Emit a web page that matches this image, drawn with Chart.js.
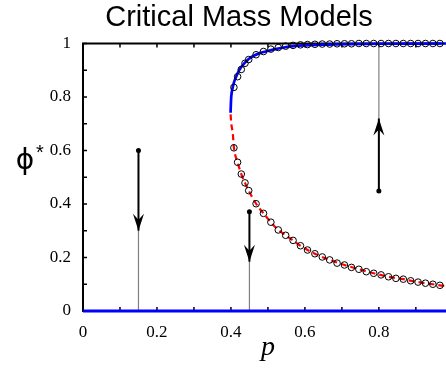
<!DOCTYPE html>
<html lang="en">
  <head>
    <meta charset="UTF-8" />
    <title>Critical Mass Models</title>
    <style>
      body { margin: 0; background: #fff; }
      #wrap { width: 446px; height: 368px; }
    </style>
  </head>
  <body>
    <div id="wrap"><canvas id="myChart"></canvas></div>
  </body>
  <script src="https://cdn.jsdelivr.net/npm/chart.js"></script>
  <script>
    // simulation points (circles)
    var circleP = [0.408, 0.418, 0.428, 0.438, 0.448, 0.468, 0.488, 0.508, 0.528, 0.548, 0.568, 0.588, 0.607, 0.627, 0.647, 0.667, 0.687, 0.707, 0.726, 0.746, 0.766, 0.786, 0.806, 0.826, 0.846, 0.866, 0.886, 0.906, 0.926, 0.946, 0.965];
    var circleHigh = [0.836, 0.876, 0.903, 0.926, 0.94, 0.958, 0.97, 0.979, 0.985, 0.99, 0.993, 0.995, 0.996, 0.997, 0.998, 0.998, 0.999, 0.999, 0.999, 1, 1, 1, 1, 1, 1, 1, 1, 1, 1, 1, 1];
    var circleLow = [0.61, 0.556, 0.512, 0.479, 0.45, 0.401, 0.365, 0.332, 0.303, 0.283, 0.264, 0.244, 0.228, 0.214, 0.202, 0.191, 0.179, 0.172, 0.163, 0.156, 0.147, 0.141, 0.135, 0.128, 0.122, 0.119, 0.113, 0.108, 0.104, 0.1, 0.096];

    // stable upper branch (blue)
    var upperP = [0.399, 0.4, 0.401, 0.405, 0.408, 0.413, 0.419, 0.426, 0.436, 0.448, 0.463, 0.48, 0.499, 0.52, 0.543, 0.57, 0.596, 0.65, 0.72, 0.8, 1.0];
    var upperPhi = [0.741, 0.78, 0.804, 0.837, 0.854, 0.872, 0.891, 0.908, 0.926, 0.942, 0.955, 0.965, 0.972, 0.979, 0.985, 0.99, 0.993, 0.996, 0.998, 0.999, 1.0];

    // unstable branch (red dashed)
    var lowerP = [0.399, 0.401, 0.405, 0.408, 0.418, 0.428, 0.438, 0.448, 0.468, 0.488, 0.508, 0.528, 0.548, 0.568, 0.588, 0.627, 0.667, 0.707, 0.746, 0.786, 0.826, 0.866, 0.906, 0.946, 0.965, 1.0];
    var lowerPhi = [0.735, 0.7, 0.664, 0.612, 0.556, 0.512, 0.479, 0.45, 0.401, 0.365, 0.332, 0.303, 0.283, 0.264, 0.244, 0.214, 0.191, 0.172, 0.156, 0.141, 0.128, 0.119, 0.108, 0.1, 0.096, 0.09];

    // stable lower branch phi = 0
    var zeroP = [0, 1];
    var zeroPhi = [0, 0];

    // flow arrows
    var arrowP = [0.15, 0.45, 0.8];
    var arrowFrom = [0.6, 0.371, 0.449];
    var arrowTo = [0.3, 0.184, 0.72];
    var stemEnd = [0, 0, 1];

    var xTicks = [0, 0.2, 0.4, 0.6, 0.8, 1];
    var yTicks = [0, 0.2, 0.4, 0.6, 0.8, 1];

    function pts(xs, ys) {
      return xs.map(function (v, i) { return { x: v, y: ys[i] }; });
    }
    function tickLabel(list) {
      return function (v) {
        var r = Math.round(v * 10) / 10;
        return list.indexOf(r) >= 0 ? String(r) : "";
      };
    }

    var datasets = [];
    arrowP.forEach(function (p, i) {
      datasets.push({
        data: [{ x: p, y: arrowTo[i] }, { x: p, y: stemEnd[i] }],
        borderColor: "#808080", borderWidth: 1.2, pointRadius: 0, order: 9,
      });
      datasets.push({
        data: [{ x: p, y: arrowFrom[i] }, { x: p, y: arrowTo[i] }],
        borderColor: "#000", backgroundColor: "#000", borderWidth: 2,
        pointRadius: [2.5, 0], pointBorderWidth: 0, order: 8,
      });
    });
    datasets.push({
      data: pts(zeroP, zeroPhi), borderColor: "#0000ff", borderWidth: 3, pointRadius: 0, order: 5,
    });
    datasets.push({
      data: pts(lowerP, lowerPhi), borderColor: "#ff0000", borderWidth: 2.2, borderDash: [6, 4],
      pointRadius: 0, cubicInterpolationMode: "monotone", order: 4,
    });
    datasets.push({
      data: pts(upperP, upperPhi), borderColor: "#0000ff", borderWidth: 2.7, pointRadius: 0,
      cubicInterpolationMode: "monotone", order: 3,
    });
    datasets.push({
      data: pts(circleP, circleHigh), showLine: false, pointRadius: 3.3, pointBorderWidth: 1,
      pointBorderColor: "#000", pointBackgroundColor: "rgba(0,0,0,0)", order: 1,
    });
    datasets.push({
      data: pts(circleP, circleLow), showLine: false, pointRadius: 3.3, pointBorderWidth: 1,
      pointBorderColor: "#000", pointBackgroundColor: "rgba(0,0,0,0)", order: 1,
    });
    datasets.forEach(function (d) { d.clip = false; d.showLine = d.showLine !== false; });

    var frame = {
      id: "frame",
      beforeDatasetsDraw: function (chart) {
        var ctx = chart.ctx, a = chart.chartArea, x = chart.scales.x, y = chart.scales.y;
        ctx.save();
        ctx.strokeStyle = "#000";
        ctx.lineWidth = 2;
        ctx.beginPath();
        ctx.moveTo(a.left - 1, a.top);
        ctx.lineTo(a.right, a.top);
        ctx.stroke();
        ctx.lineWidth = 1.5;
        ctx.beginPath();
        x.ticks.forEach(function (t) {
          var px = x.getPixelForValue(t.value);
          ctx.moveTo(px, a.bottom); ctx.lineTo(px, a.bottom - 4);
          ctx.moveTo(px, a.top); ctx.lineTo(px, a.top + 4);
        });
        y.ticks.forEach(function (t) {
          var py = y.getPixelForValue(t.value);
          ctx.moveTo(a.left, py); ctx.lineTo(a.left + 4, py);
        });
        ctx.stroke();
        ctx.restore();
      },
      afterDatasetsDraw: function (chart) {
        var ctx = chart.ctx, x = chart.scales.x, y = chart.scales.y;
        ctx.save();
        ctx.fillStyle = "#000";
        arrowP.forEach(function (p, i) {
          var tx = x.getPixelForValue(p), ty = y.getPixelForValue(arrowTo[i]);
          var d = Math.sign(ty - y.getPixelForValue(arrowFrom[i]));
          ctx.beginPath();
          ctx.moveTo(tx, ty);
          ctx.lineTo(tx - 5.5, ty - d * 17);
          ctx.lineTo(tx, ty - d * 11);
          ctx.lineTo(tx + 5.5, ty - d * 17);
          ctx.closePath();
          ctx.fill();
        });
        // axis labels
        ctx.textAlign = "center";
        ctx.textBaseline = "alphabetic";
        ctx.font = "italic 28px 'Liberation Serif'";
        ctx.fillText("p", x.getPixelForValue(0.5), 355);
        ctx.font = "28px 'DejaVu Sans'";
        ctx.fillText("\u03d5", 25, 169);
        ctx.font = "20px 'Liberation Sans'";
        ctx.textAlign = "left";
        ctx.fillText("*", 36, 159);
        ctx.restore();
      },
    };

    var config = {
      type: "scatter",
      data: { datasets: datasets },
      options: {
        responsive: true,
        maintainAspectRatio: false,
        animation: false,
        layout: { padding: { left: 32, right: 0, top: 0, bottom: 0 } },
        plugins: {
          legend: { display: false },
          tooltip: { enabled: false },
          title: {
            display: true,
            text: "Critical Mass Models",
            color: "#000",
            font: { family: "'Liberation Sans'", size: 29, weight: "normal", lineHeight: 1 },
            padding: { top: 3, bottom: 11.5 },
          },
        },
        scales: {
          x: {
            type: "linear",
            min: 0,
            max: 0.968,
            grid: { display: false },
            border: { color: "#000", width: 2 },
            ticks: {
              stepSize: 0.1, includeBounds: false, autoSkip: false, maxRotation: 0,
              padding: 3, color: "#000",
              font: { family: "'Liberation Serif'", size: 17 },
              callback: tickLabel(xTicks),
            },
            afterFit: function (s) { s.height = 57; },
          },
          y: {
            type: "linear",
            min: 0,
            max: 1,
            grid: { display: false },
            border: { color: "#000", width: 2 },
            ticks: {
              stepSize: 0.1, autoSkip: false, padding: 4, color: "#000",
              font: { family: "'Liberation Serif'", size: 17 },
              callback: tickLabel(yTicks),
            },
            afterFit: function (s) { s.width = 51; },
          },
        },
      },
      plugins: [frame],
    };

    var myChart = new Chart(document.getElementById("myChart"), config);
  </script>
</html>
